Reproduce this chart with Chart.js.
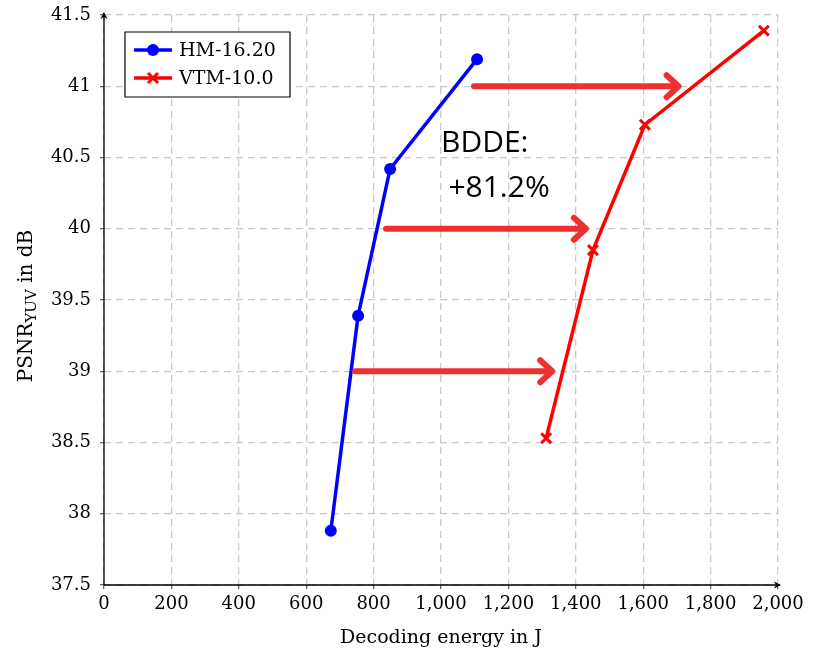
<!DOCTYPE html>
<html>
<head>
<meta charset="utf-8">
<script src="https://cdn.jsdelivr.net/npm/chart.js@4"></script>
<style>
  html, body { margin: 0; padding: 0; background: #fff; }
  #wrap { width: 819px; height: 653px; }
</style>
</head>
<body>
<div id="wrap"><canvas id="chart" width="819" height="653"></canvas></div>
<script>
// values
const hmEnergy = [673, 754, 849, 1107];
const hmPsnr = [37.88, 39.39, 40.42, 41.19];
const vtmEnergy = [1312, 1451, 1605, 1958];
const vtmPsnr = [38.53, 39.85, 40.73, 41.39];
const seriesNames = ['HM-16.20', 'VTM-10.0'];
// red arrows: [from energy, to energy, psnr]
const arrowList = [[745, 1330, 39], [837, 1430, 40], [1098, 1705, 41]];
const noteLines = ['BDDE:', '+81.2%'];

const serif = '"DejaVu Serif", "Liberation Serif", serif';
const arrowRed = '#ee3030';

// draws axis arrows, the red shift arrows, the BDDE note, the legend and the y title
const extrasPlugin = {
    id: 'extras',
    afterDatasetsDraw(chart) {
        const ctx = chart.ctx;
        const xs = chart.scales.x, ys = chart.scales.y;
        const area = chart.chartArea;
        ctx.save();

        // axis lines with arrow heads
        ctx.strokeStyle = '#000';
        ctx.fillStyle = '#000';
        ctx.lineWidth = 1.3;
        ctx.beginPath();
        ctx.moveTo(area.left, area.bottom);
        ctx.lineTo(area.right + 2, area.bottom);
        ctx.moveTo(area.left, area.bottom);
        ctx.lineTo(area.left, area.top - 2);
        ctx.stroke();
        ctx.beginPath();
        ctx.moveTo(area.right + 3, area.bottom);
        ctx.lineTo(area.right - 4, area.bottom - 3.5);
        ctx.lineTo(area.right - 2, area.bottom);
        ctx.lineTo(area.right - 4, area.bottom + 3.5);
        ctx.closePath();
        ctx.fill();
        ctx.beginPath();
        ctx.moveTo(area.left, area.top - 3);
        ctx.lineTo(area.left - 3.5, area.top + 4);
        ctx.lineTo(area.left, area.top + 2);
        ctx.lineTo(area.left + 3.5, area.top + 4);
        ctx.closePath();
        ctx.fill();

        // shift arrows
        ctx.strokeStyle = arrowRed;
        ctx.lineWidth = 6;
        ctx.lineCap = 'round';
        ctx.lineJoin = 'round';
        arrowList.forEach(a => {
            const x0 = xs.getPixelForValue(a[0]);
            const x1 = xs.getPixelForValue(a[1]);
            const y = ys.getPixelForValue(a[2]);
            ctx.beginPath();
            ctx.moveTo(x0, y);
            ctx.lineTo(x1 - 2, y);
            ctx.stroke();
            ctx.beginPath();
            ctx.moveTo(x1 - 12, y - 11);
            ctx.lineTo(x1, y);
            ctx.lineTo(x1 - 12, y + 11);
            ctx.stroke();
        });

        // BDDE note
        ctx.fillStyle = '#000';
        ctx.font = '30px "Open Sans", "Liberation Sans", sans-serif';
        ctx.textBaseline = 'alphabetic';
        ctx.textAlign = 'left';
        ctx.fillText(noteLines[0], xs.getPixelForValue(1000), ys.getPixelForValue(40.54));
        ctx.fillText(noteLines[1], xs.getPixelForValue(1022), ys.getPixelForValue(40.225));

        // legend box
        const lx = 125, ly = 32, lw = 165, lh = 65;
        ctx.fillStyle = '#fff';
        ctx.fillRect(lx, ly, lw, lh);
        ctx.strokeStyle = '#000';
        ctx.lineWidth = 1.2;
        ctx.strokeRect(lx, ly, lw, lh);
        ctx.font = '19px ' + serif;
        ctx.textBaseline = 'middle';
        const rows = [
            { name: seriesNames[0], color: '#0000ff', y: ly + 18, marker: 'circle' },
            { name: seriesNames[1], color: '#ff0000', y: ly + 46, marker: 'cross' }
        ];
        rows.forEach(r => {
            ctx.strokeStyle = r.color;
            ctx.fillStyle = r.color;
            ctx.lineWidth = 3.5;
            ctx.lineCap = 'butt';
            ctx.beginPath();
            ctx.moveTo(lx + 9, r.y);
            ctx.lineTo(lx + 47, r.y);
            ctx.stroke();
            if (r.marker === 'circle') {
                ctx.beginPath();
                ctx.arc(lx + 28, r.y, 6, 0, Math.PI * 2);
                ctx.fill();
            } else {
                ctx.lineWidth = 3;
                ctx.beginPath();
                ctx.moveTo(lx + 23, r.y - 5);
                ctx.lineTo(lx + 33, r.y + 5);
                ctx.moveTo(lx + 23, r.y + 5);
                ctx.lineTo(lx + 33, r.y - 5);
                ctx.stroke();
            }
            ctx.fillStyle = '#000';
            ctx.fillText(r.name, lx + 54, r.y + 1);
        });

        // y title with subscript
        ctx.save();
        ctx.translate(25, 306);
        ctx.rotate(-Math.PI / 2);
        ctx.fillStyle = '#000';
        ctx.textBaseline = 'alphabetic';
        const big = '20px ' + serif, small = '15px ' + serif;
        const parts = [['PSNR', big, 0], ['YUV', small, 4], [' in dB', big, 0]];
        let total = 0;
        parts.forEach(p => { ctx.font = p[1]; total += ctx.measureText(p[0]).width; });
        let cx = -total / 2;
        parts.forEach(p => {
            ctx.font = p[1];
            ctx.fillText(p[0], cx, 7 + p[2]);
            cx += ctx.measureText(p[0]).width;
        });
        ctx.restore();

        ctx.restore();
    }
};

const gridStyle = {
    color: '#c8c8c8',
    lineWidth: 1.3,
    tickColor: '#666',
    tickLength: 4,
    tickBorderDash: [],
    drawTicks: true
};

new Chart(document.getElementById('chart').getContext('2d'), {
    type: 'scatter',
    data: {
        datasets: [
            {
                label: seriesNames[0],
                data: hmEnergy.map((x, i) => ({ x: x, y: hmPsnr[i] })),
                showLine: true,
                borderColor: '#0000ff',
                backgroundColor: '#0000ff',
                borderWidth: 3.5,
                pointStyle: 'circle',
                pointRadius: 6,
                pointBorderWidth: 0,
                tension: 0
            },
            {
                label: seriesNames[1],
                data: vtmEnergy.map((x, i) => ({ x: x, y: vtmPsnr[i] })),
                showLine: true,
                borderColor: '#ff0000',
                backgroundColor: '#ff0000',
                borderWidth: 3.5,
                pointStyle: 'crossRot',
                pointRadius: 7,
                pointBorderWidth: 3,
                tension: 0
            }
        ]
    },
    options: {
        responsive: false,
        animation: false,
        layout: { padding: { top: 15, right: 41, left: 0, bottom: 0 } },
        plugins: {
            legend: { display: false },
            tooltip: { enabled: false }
        },
        scales: {
            x: {
                type: 'linear',
                min: 0,
                max: 2000,
                border: { display: false, dash: [7, 5] },
                grid: gridStyle,
                ticks: {
                    stepSize: 200,
                    color: '#000',
                    padding: 5,
                    maxRotation: 0,
                    font: { family: serif, size: 18 },
                    callback: v => v.toLocaleString('en-US')
                },
                title: {
                    display: true,
                    text: 'Decoding energy in J',
                    color: '#000',
                    font: { family: serif, size: 19 },
                    padding: { top: 9 }
                },
                afterFit: s => { s.height = 68; s.paddingLeft = 0; s.paddingRight = 0; }
            },
            y: {
                type: 'linear',
                min: 37.5,
                max: 41.5,
                border: { display: false, dash: [7, 5] },
                grid: gridStyle,
                ticks: {
                    stepSize: 0.5,
                    color: '#000',
                    padding: 9,
                    font: { family: serif, size: 18 },
                    callback: v => String(v)
                },
                afterFit: s => { s.width = 104; s.paddingTop = 0; s.paddingBottom = 0; }
            }
        }
    },
    plugins: [extrasPlugin]
});
</script>
</body>
</html>
